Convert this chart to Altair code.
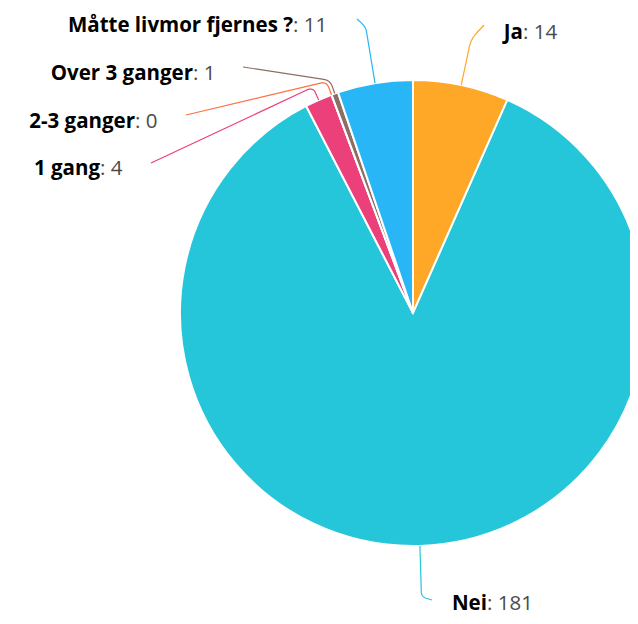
import math
import altair as alt
import pandas as pd

# ---- data ----
categories = ["Ja", "Nei", "1 gang", "2-3 ganger", "Over 3 ganger", "Måtte livmor fjernes ?"]
values = [14, 181, 4, 0, 1, 11]
colors = ["#FFA726", "#26C6DA", "#EC407A", "#FF7043", "#8D6E63", "#29B6F6"]

# ---- layout (page pixels) ----
W, H = 622, 608
OFF = 8
CX, CY, R = 413, 313, 233
# connector end x, end y, elbow radius, label split x, label baseline y
end_x = [484, 432, 151, 186, 243, 357]
end_y = [25, 600, 163, 115, 67, 19]
elbow_r = [280, 284, 247, 247, 247, 290]
split_x = [523, 487, 100, 135, 193, 293]
base_y = [39, 610, 175, 128, 80, 31.5]
FONT = "Open Sans"
FS = 20.5

total = sum(values)
slices = pd.DataFrame({"cat": categories, "value": values, "idx": list(range(len(values)))})

# connectors derived from slice mid-angles
rows = []
cum = 0.0
for i, (c, v) in enumerate(zip(categories, values)):
    a0 = cum / total * 2 * math.pi
    cum += v
    a1 = cum / total * 2 * math.pi
    m = (a0 + a1) / 2
    s, co = math.sin(m), math.cos(m)
    p0 = (CX + R * s, CY - R * co)
    cpt = (CX + elbow_r[i] * s, CY - elbow_r[i] * co)
    e = (end_x[i], end_y[i])
    l1 = math.dist(p0, cpt)
    l2 = math.dist(cpt, e)
    d = min(12, 0.45 * l1, 0.45 * l2)
    A = (cpt[0] + (p0[0] - cpt[0]) * d / l1, cpt[1] + (p0[1] - cpt[1]) * d / l1)
    B = (cpt[0] + (e[0] - cpt[0]) * d / l2, cpt[1] + (e[1] - cpt[1]) * d / l2)
    pts = [p0]
    n = 10
    for k in range(n + 1):
        t = k / n
        x = (1 - t) ** 2 * A[0] + 2 * (1 - t) * t * cpt[0] + t ** 2 * B[0]
        y = (1 - t) ** 2 * A[1] + 2 * (1 - t) * t * cpt[1] + t ** 2 * B[1]
        pts.append((x, y))
    pts.append(e)
    for k, (x, y) in enumerate(pts):
        rows.append({"cat": c, "seq": k, "x": x, "y": y})
lines = pd.DataFrame(rows)

labels = pd.DataFrame({
    "cat": categories,
    "name": categories,
    "val": [f": {v}" for v in values],
    "x": split_x,
    "y": base_y,
})

xs = alt.Scale(domain=[OFF, OFF + W], range=[0, W])
ys = alt.Scale(domain=[OFF, OFF + H], range=[0, H])
cs = alt.Scale(domain=categories, range=colors)

pie = alt.Chart(slices).mark_arc(radius=R, stroke="white", strokeWidth=2).encode(
    theta=alt.Theta("value:Q", stack=True),
    order=alt.Order("idx:Q"),
    color=alt.Color("cat:N", scale=cs, legend=None),
    x=alt.value(CX - OFF),
    y=alt.value(CY - OFF),
)

conn = alt.Chart(lines).mark_line(strokeWidth=1.2).encode(
    x=alt.X("x:Q", scale=xs, axis=None),
    y=alt.Y("y:Q", scale=ys, axis=None),
    color=alt.Color("cat:N", scale=cs, legend=None),
    order="seq:Q",
    detail="cat:N",
)

names = alt.Chart(labels).mark_text(
    align="right", baseline="alphabetic", font=FONT, fontSize=FS,
    fontWeight="bold", color="#000000"
).encode(
    x=alt.X("x:Q", scale=xs, axis=None),
    y=alt.Y("y:Q", scale=ys, axis=None),
    text="name:N",
)

vals = alt.Chart(labels).mark_text(
    align="left", baseline="alphabetic", font=FONT, fontSize=FS,
    color="#4a4a4a"
).encode(
    x=alt.X("x:Q", scale=xs, axis=None),
    y=alt.Y("y:Q", scale=ys, axis=None),
    text="val:N",
)

chart = alt.layer(pie, conn, names, vals).properties(
    width=W, height=H, padding=0, autosize="none"
).configure_view(stroke=None)

chart.save("out.html", embed_options={"renderer": "svg", "actions": False})
